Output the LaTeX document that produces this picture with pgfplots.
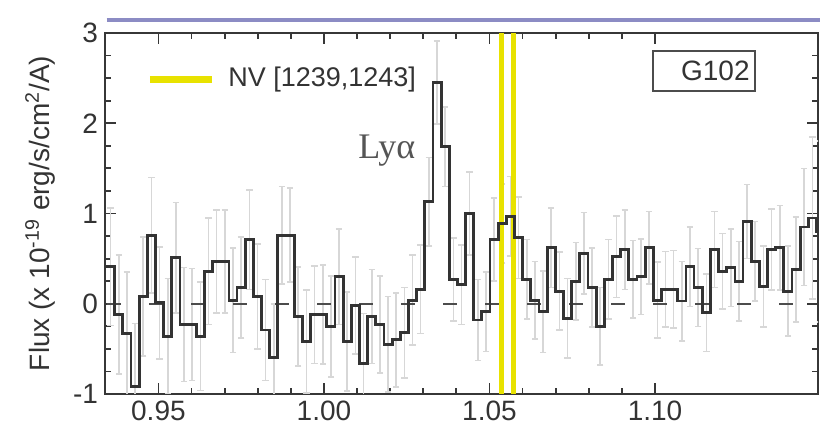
\documentclass[border=0pt]{standalone}
\usepackage{fontspec}
\setmainfont{Liberation Sans}
\newfontfamily\lyafont{Liberation Serif}
\usepackage{pgfplots}
\usepackage{pgfplotstable}
\pgfplotsset{compat=1.18}
\definecolor{nvyellow}{RGB}{232,226,0}
\definecolor{framegray}{RGB}{55,55,55}
\definecolor{errgray}{RGB}{215,215,215}
\definecolor{topblue}{RGB}{140,140,196}
\definecolor{lyagray}{RGB}{85,85,85}

% x = left bin edge, xc = bin centre, y = flux, e = error
\pgfplotstableread{
x xc y e
0.93432 0.93555 0.41 0.65
0.93679 0.93802 -0.12 0.66
0.93925 0.94048 -0.33 0.68
0.94172 0.94295 -0.92 0.70
0.94418 0.94541 0.08 0.66
0.94665 0.94788 0.76 0.64
0.94911 0.95034 0.01 0.62
0.95158 0.95281 -0.36 0.64
0.95404 0.95527 0.51 0.61
0.95651 0.95774 -0.23 0.63
0.95897 0.96020 -0.23 0.62
0.96144 0.96267 -0.36 0.60
0.96390 0.96513 0.36 0.59
0.96637 0.96760 0.47 0.57
0.96883 0.97006 0.47 0.57
0.97130 0.97253 0.04 0.58
0.97376 0.97499 0.18 0.56
0.97623 0.97746 0.71 0.55
0.97869 0.97992 0.08 0.58
0.98116 0.98239 -0.29 0.56
0.98362 0.98485 -0.60 0.60
0.98609 0.98732 0.76 0.54
0.98855 0.98978 0.76 0.52
0.99102 0.99225 -0.14 0.55
0.99348 0.99471 -0.42 0.57
0.99595 0.99718 -0.12 0.54
0.99841 0.99964 -0.12 0.55
1.00088 1.00211 -0.25 0.56
1.00334 1.00457 0.30 0.53
1.00581 1.00704 -0.42 0.55
1.00827 1.00950 -0.02 0.54
1.01074 1.01197 -0.66 0.55
1.01320 1.01443 -0.14 0.52
1.01567 1.01690 -0.23 0.54
1.01813 1.01936 -0.45 0.53
1.02060 1.02183 -0.40 0.52
1.02306 1.02429 -0.32 0.50
1.02553 1.02676 0.04 0.50
1.02799 1.02922 0.16 0.49
1.03046 1.03169 1.13 0.49
1.03292 1.03415 2.45 0.46
1.03539 1.03662 1.74 0.44
1.03785 1.03908 0.27 0.46
1.04032 1.04155 0.21 0.44
1.04278 1.04401 1.00 0.46
1.04525 1.04648 -0.18 0.45
1.04771 1.04894 -0.09 0.44
1.05018 1.05141 0.71 0.46
1.05264 1.05387 0.89 0.44
1.05511 1.05634 0.97 0.44
1.05757 1.05880 0.73 0.45
1.06004 1.06127 0.27 0.44
1.06250 1.06373 0.04 0.43
1.06497 1.06620 -0.09 0.45
1.06743 1.06866 0.62 0.44
1.06990 1.07113 0.14 0.43
1.07236 1.07359 -0.16 0.44
1.07483 1.07606 0.25 0.43
1.07729 1.07852 0.56 0.45
1.07976 1.08099 0.18 0.44
1.08222 1.08345 -0.25 0.43
1.08469 1.08592 0.27 0.44
1.08715 1.08838 0.52 0.45
1.08962 1.09085 0.60 0.44
1.09208 1.09331 0.27 0.43
1.09455 1.09578 0.30 0.42
1.09701 1.09824 0.62 0.40
1.09948 1.10071 0.04 0.42
1.10194 1.10317 0.16 0.42
1.10441 1.10564 0.16 0.43
1.10687 1.10810 0.03 0.44
1.10934 1.11057 0.41 0.44
1.11180 1.11303 0.18 0.43
1.11427 1.11550 -0.10 0.43
1.11673 1.11796 0.60 0.42
1.11920 1.12043 0.36 0.42
1.12166 1.12289 0.40 0.43
1.12413 1.12536 0.25 0.44
1.12659 1.12782 0.91 0.41
1.12906 1.13029 0.47 0.44
1.13152 1.13275 0.19 0.45
1.13399 1.13522 0.60 0.45
1.13645 1.13768 0.62 0.47
1.13892 1.14015 0.14 0.50
1.14138 1.14261 0.38 0.58
1.14385 1.14508 0.85 0.65
1.14631 1.14754 0.95 0.90
1.14878 1.15001 0.80 1.00
1.15124 1.15247 0.80 0.00
}\spec

\begin{document}
\begin{tikzpicture}
\useasboundingbox (-52.5pt,-21.5pt) rectangle (365.5pt,197pt);
\begin{axis}[
  at={(0pt,0pt)}, anchor=south west,
  scale only axis, width=356.5pt, height=180.5pt,
  xmin=0.93387, xmax=1.14923, ymin=-1, ymax=3,
  clip mode=individual,
  xtick={0.95,1.00,1.05,1.10},
  xticklabels={0.95,1.00,1.05,1.10},
  minor x tick num=4,
  ytick={-1,0,1,2,3},
  yticklabels={-1,0,1,2,3},
  minor y tick num=3,
  tick align=inside,
  major tick length=5.5pt, minor tick length=3pt,
  tick style={framegray, line width=0.9pt},
  axis line style={framegray, line width=1.2pt},
  tick label style={font=\fontsize{14}{16}\selectfont, text=black!80},
  /pgf/number format/assume math mode=true,
  ylabel={Flux (x 10\textsuperscript{-19} erg/s/cm\textsuperscript{2}/A)},
  ylabel style={font=\fontsize{14}{16}\selectfont, text=black!80,
    at={(axis description cs:-0.091,0.5)}, anchor=center},
  no markers,
]
% error bars at bin centres
\addplot[draw=none, mark=none,
  error bars/.cd, y dir=both, y explicit,
  error bar style={draw=errgray, line width=0.8pt},
  error mark options={draw=errgray, line width=0.8pt, mark size=1.6pt, rotate=90}]
  table[x=xc, y=y, y error=e] {\spec};
% NV lines
\addplot[nvyellow, line width=2.6pt, mark=none] coordinates {(1.05369,-1) (1.05369,3)};
\addplot[nvyellow, line width=2.6pt, mark=none] coordinates {(1.05720,-1) (1.05720,3)};
% zero level
\addplot[black!70, line width=1.1pt, mark=none, dash pattern=on 7pt off 14pt, dash phase=20pt]
  coordinates {(0.93387,0) (1.14923,0)};
% spectrum
\addplot[const plot, mark=none, black!80, line width=1.4pt] table[x=x, y=y] {\spec};

% legend
\draw[nvyellow, line width=3.5pt] (rel axis cs:0.063,0.8698) -- (rel axis cs:0.150,0.8698);
\node[anchor=west, inner sep=0pt, font=\fontsize{13.5}{16}\selectfont, text=black!80]
  at (rel axis cs:0.1725,0.8698) {NV [1239,1243]};
% G102 box
\draw[black!70, line width=1pt] (rel axis cs:0.7686,0.839) rectangle (rel axis cs:0.9116,0.950);
\node[inner sep=0pt, font=\fontsize{14}{16}\selectfont, text=black!80]
  at (rel axis cs:0.856,0.8947) {G102};
% Ly alpha
\node[anchor=base west, inner sep=0pt, font=\lyafont\fontsize{18}{20}\selectfont, text=lyagray]
  at (rel axis cs:0.3548,0.6537) {Lyα};
\end{axis}
\draw[topblue, line width=1.6pt] (0.85pt,187pt) -- (357.5pt,187pt);
\end{tikzpicture}
\end{document}
